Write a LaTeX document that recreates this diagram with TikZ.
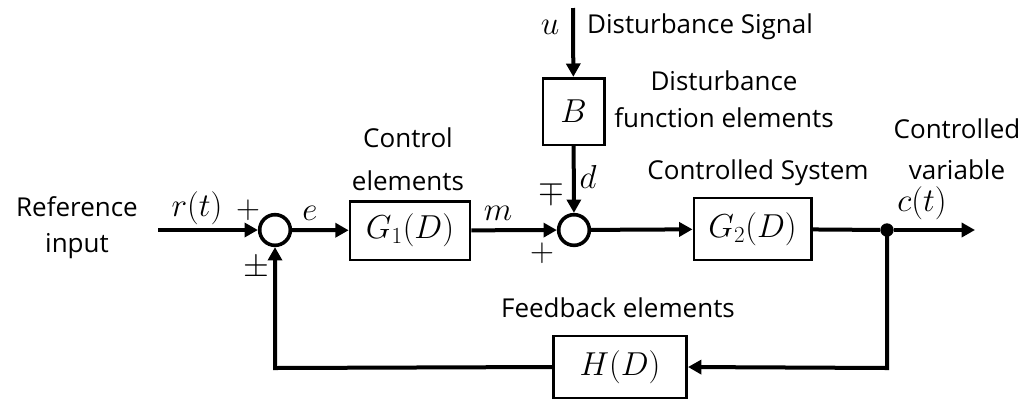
\documentclass[tikz,border=0pt]{standalone}
\usepackage{fontspec}
\setmainfont{Open Sans}
\usepackage{amsmath}
\usetikzlibrary{arrows.meta}
\begin{document}
\begin{tikzpicture}[x=0.75pt,y=-0.75pt,
  blk/.style={draw,line width=2pt,inner sep=0pt},
  sumc/.style={draw,circle,line width=2.7pt,minimum size=23pt,inner sep=0pt},
  sig/.style={line width=3pt,-{Triangle[length=10pt,width=10.5pt]}},
  wire/.style={line width=3pt},
  lbl/.style={font=\fontsize{19.5}{23}\selectfont,inner sep=0pt},
  mth/.style={font=\fontsize{23}{27}\selectfont,inner sep=0pt},
  dot/.style={circle,fill,minimum size=10pt,inner sep=0pt}]
\useasboundingbox (0,0) rectangle (1034,401);
% nodes
\coordinate (in) at (158,230);
\node[sumc] (s1) at (275,230) {};
\node[blk,minimum width=90pt,minimum height=44pt] (g1) at (410,230.5) {\fontsize{23}{27}\selectfont$G_1(D)$};
\node[sumc] (s2) at (574,230) {};
\node[blk,minimum width=88pt,minimum height=46.5pt] (g2) at (752.5,229) {\fontsize{23}{27}\selectfont$G_2(D)$};
\node[dot] (j) at (887,230) {};
\coordinate (out) at (975,230);
\node[blk,minimum width=46pt,minimum height=50pt] (b) at (573.5,111.5) {\fontsize{23}{27}\selectfont$B$};
\coordinate (u) at (573,8);
\node[blk,minimum width=100pt,minimum height=46.5pt] (h) at (620,367) {\fontsize{23}{27}\selectfont$H(D)$};
\coordinate (c1) at (887,368);
\coordinate (c2) at (275,368);
% connectors
\draw[sig] (in) -- (s1);
\draw[sig] (s1) -- (g1);
\draw[sig] (g1) -- (s2);
\draw[sig] (s2) -- (g2);
\draw[wire] (g2) -- (j);
\draw[sig] (j) -- (out);
\draw[sig] (u) -- (b);
\draw[sig] (b) -- (s2);
\draw[sig] (j.center) -- (c1) -- (h.east);
\draw[sig] (h.west) -- (c2) -- (s1);
% labels
\node[lbl,align=center,font=\fontsize{19.5}{27}\selectfont] (tref) at (77,228) {Reference\\input};
\node[mth] (tr) at (197,208) {$r(t)$};
\node[mth] (tp1) at (248,210) {$+$};
\node[mth] (te) at (310,213) {$e$};
\node[mth] (tpm) at (256,268) {$\pm$};
\node[lbl,align=center,font=\fontsize{19.5}{32}\selectfont] (tctl) at (408,159) {Control\\elements};
\node[mth] (tm) at (498,213) {$m$};
\node[mth] (tmp) at (551,192) {$\mp$};
\node[mth] (tp2) at (542,253) {$+$};
\node[mth] (td) at (588,177) {$d$};
\node[mth] (tu) at (550,27) {$u$};
\node[lbl] (tds) at (700,27) {Disturbance Signal};
\node[lbl,align=center,font=\fontsize{19.5}{28}\selectfont] (tdf) at (724,99) {Disturbance\\function elements};
\node[lbl] (tcs) at (758,173) {Controlled System};
\node[lbl,align=center,font=\fontsize{19.5}{31}\selectfont] (tcv) at (957,149) {Controlled\\variable};
\node[mth] (tc) at (922,203) {$c(t)$};
\node[lbl] (tfb) at (618,308) {Feedback elements};
\end{tikzpicture}
\end{document}
